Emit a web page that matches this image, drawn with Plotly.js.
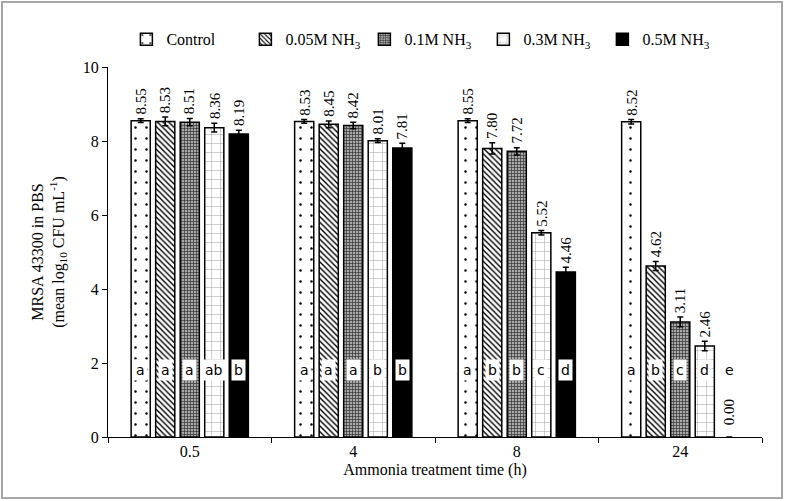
<!DOCTYPE html>
<html>
<head>
<meta charset="utf-8">
<script src="https://cdn.plot.ly/plotly-3.0.1.min.js"></script>
<style>
  body { margin: 0; background: #fff; }
  #frame { position: absolute; left: 1px; top: 1px; width: 778px; height: 494px; border: 2px solid #a6a6a6; pointer-events: none; }
</style>
</head>
<body>
<div id="chart" style="width:785px;height:501px;"></div>
<div id="frame"></div>
<script>
// treatment times (h)
var times = ["0.5", "4", "8", "24"];
var seriesNames = ["Control", "0.05M NH<sub>3</sub>", "0.1M NH<sub>3</sub>", "0.3M NH<sub>3</sub>", "0.5M NH<sub>3</sub>"];

// mean log10 CFU/mL
var control = [8.55, 8.53, 8.55, 8.52];
var nh3_005 = [8.53, 8.45, 7.80, 4.62];
var nh3_01  = [8.51, 8.42, 7.72, 3.11];
var nh3_03  = [8.36, 8.01, 5.52, 2.46];
var nh3_05  = [8.19, 7.81, 4.46, 0.00];

// error bars (estimated)
var errControl = [0.05, 0.05, 0.05, 0.06];
var err005 = [0.12, 0.09, 0.15, 0.12];
var err01  = [0.10, 0.09, 0.10, 0.13];
var err03  = [0.12, 0.05, 0.06, 0.13];
var err05  = [0.10, 0.13, 0.13, 0.00];

// significance letters
var letControl = ["a", "a", "a", "a"];
var let005 = ["a", "a", "b", "b"];
var let01  = ["a", "a", "b", "c"];
var let03  = ["ab", "b", "c", "d"];
var let05  = ["b", "b", "d", "e"];

var values = [control, nh3_005, nh3_01, nh3_03, nh3_05];
var errs = [errControl, err005, err01, err03, err05];
var letters = [letControl, let005, let01, let03, let05];

var patterns = [
  {shape: ".", fgcolor: "#000", bgcolor: "#fff", size: 11, solidity: 0.04},
  {shape: "\\", fgcolor: "#000", bgcolor: "#fff", size: 4, solidity: 0.35},
  {shape: "+", fgcolor: "#333", bgcolor: "#a8a8a8", size: 3, solidity: 0.4},
  {shape: "+", fgcolor: "#999", bgcolor: "#fff", size: 9, solidity: 0.1},
  {shape: "", fgcolor: "#000", bgcolor: "#000", size: 8, solidity: 0.3}
];
var fills = ["#fff", "#fff", "#a8a8a8", "#fff", "#000"];

var data = values.map(function (v, i) {
  return {
    type: "bar",
    name: seriesNames[i],
    x: times,
    y: v,
    marker: {
      color: fills[i], pattern: patterns[i],
      line: {color: "#000", width: v.map(function (d) { return d === 0 ? 0 : 1.5; })}
    },
    error_y: {type: "data", array: errs[i], visible: true, color: "#000", thickness: 1.5, width: 3}
  };
});

var margin = {l: 108, r: 23, t: 67, b: 64, pad: 0};
var bargap = 0.25;
var catW = (785 - margin.l - margin.r) / times.length;
var slot = catW * (1 - bargap) / values.length;

var annotations = [];
values.forEach(function (v, i) {
  v.forEach(function (val, j) {
    var shift = (i - 2) * slot;
    annotations.push({
      x: j, y: val + errs[i][j], xref: "x", yref: "y",
      text: val.toFixed(2), textangle: -90, showarrow: false,
      xanchor: "center", yanchor: "bottom", xshift: shift, yshift: val === 0 ? 10 : 2,
      font: {family: "Liberation Serif", size: 15, color: "#000"}
    });
    annotations.push({
      x: j, y: 1.8, xref: "x", yref: "y",
      text: letters[i][j], showarrow: false, xshift: shift,
      bgcolor: "#fff", borderpad: 2,
      font: {family: "DejaVu Sans", size: 14, color: "#000"}
    });
  });
});

var layout = {
  width: 785,
  height: 501,
  margin: margin,
  barmode: "group",
  bargap: bargap,
  bargroupgap: 0.22,
  paper_bgcolor: "#fff",
  plot_bgcolor: "#fff",
  font: {family: "Liberation Serif", size: 16, color: "#000"},
  showlegend: true,
  legend: {
    orientation: "h", x: 0.483, xanchor: "center", y: 1.075, yanchor: "middle",
    entrywidth: 74, itemwidth: 30, tracegroupgap: 0,
    font: {family: "Liberation Serif", size: 16}
  },
  xaxis: {
    type: "category", automargin: false,
    showline: true, linecolor: "#000", linewidth: 1,
    ticks: "outside", tickson: "boundaries", ticklen: 5, tickcolor: "#000",
    tickfont: {size: 16},
    title: {text: "Ammonia treatment time (h)", font: {size: 16}, standoff: 4}
  },
  yaxis: {
    range: [0, 10], dtick: 2, automargin: false,
    showline: true, linecolor: "#000", linewidth: 1,
    ticks: "outside", ticklen: 5, tickcolor: "#000",
    showgrid: false, zeroline: false,
    tickfont: {size: 16},
    title: {text: "MRSA 43300 in PBS<br>(mean log<sub>10</sub> CFU mL<sup>-1</sup>)", font: {size: 16}, standoff: 14}
  },
  annotations: annotations
};

Plotly.newPlot("chart", data, layout, {displayModeBar: false});
</script>
</body>
</html>
